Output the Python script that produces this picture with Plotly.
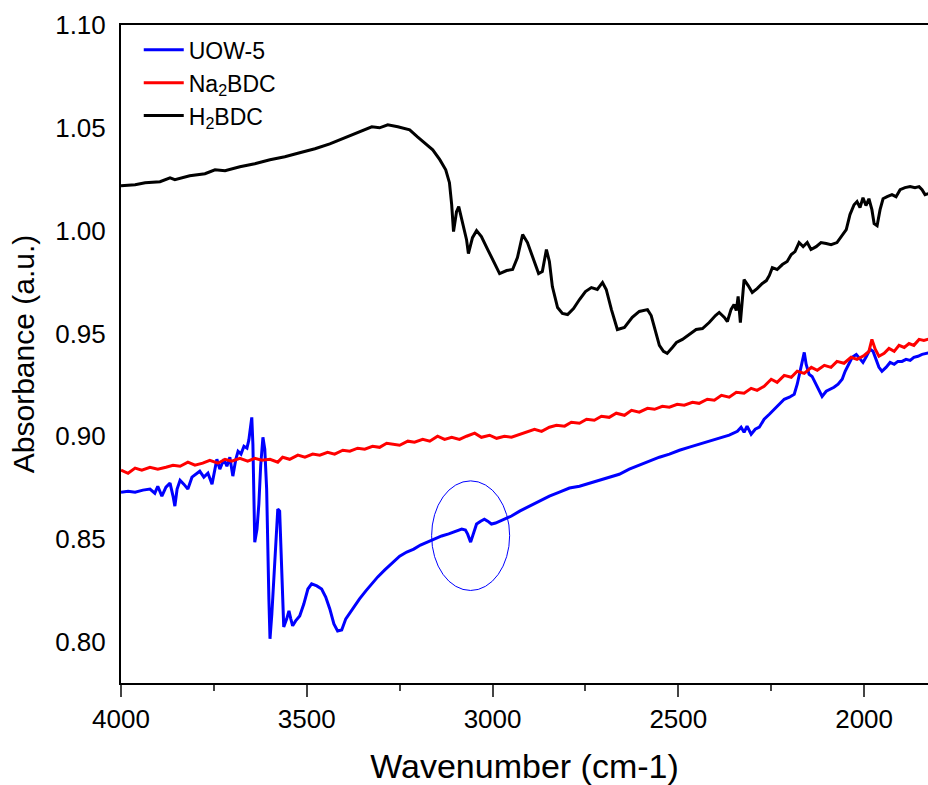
import plotly.graph_objects as go

# ---- data ----
h2bdc_wn = [4000, 3962, 3935, 3895, 3868, 3855, 3815, 3774, 3747, 3720, 3680, 3640, 3599, 3559, 3519, 3478, 3438, 3398, 3358, 3325, 3304, 3282, 3255, 3223, 3202, 3183, 3161, 3142, 3126, 3116, 3110, 3105, 3097, 3091, 3083, 3070, 3065, 3054, 3043, 3030, 3013, 2997, 2981, 2962, 2946, 2933, 2919, 2906, 2892, 2876, 2866, 2855, 2847, 2839, 2825, 2812, 2798, 2782, 2766, 2750, 2734, 2718, 2704, 2694, 2680, 2664, 2645, 2624, 2605, 2583, 2573, 2562, 2551, 2540, 2530, 2516, 2505, 2489, 2470, 2452, 2435, 2417, 2400, 2390, 2376, 2368, 2358, 2350, 2344, 2339, 2333, 2328, 2323, 2312, 2301, 2288, 2274, 2263, 2255, 2247, 2234, 2220, 2207, 2196, 2186, 2175, 2164, 2153, 2143, 2129, 2116, 2102, 2089, 2073, 2059, 2048, 2038, 2027, 2019, 2011, 2003, 1995, 1987, 1979, 1973, 1965, 1957, 1949, 1938, 1925, 1914, 1903, 1890, 1876, 1863, 1852, 1844, 1836, 1820]
h2bdc_ab = [1.0218, 1.0223, 1.0233, 1.0238, 1.0257, 1.0248, 1.0267, 1.0277, 1.0296, 1.0291, 1.0311, 1.0325, 1.0345, 1.0359, 1.0379, 1.0398, 1.0422, 1.0451, 1.0481, 1.0505, 1.0500, 1.0515, 1.0505, 1.0490, 1.0456, 1.0427, 1.0393, 1.0345, 1.0296, 1.0233, 1.0126, 0.9995, 1.0092, 1.0117, 1.0053, 0.9956, 0.9888, 0.9966, 1.0000, 0.9971, 0.9908, 0.9850, 0.9791, 0.9806, 0.9811, 0.9869, 0.9981, 0.9942, 0.9869, 0.9791, 0.9801, 0.9908, 0.9850, 0.9728, 0.9626, 0.9597, 0.9592, 0.9621, 0.9665, 0.9704, 0.9723, 0.9714, 0.9748, 0.9714, 0.9616, 0.9519, 0.9529, 0.9578, 0.9607, 0.9616, 0.9587, 0.9519, 0.9442, 0.9413, 0.9403, 0.9432, 0.9456, 0.9471, 0.9495, 0.9519, 0.9524, 0.9553, 0.9587, 0.9602, 0.9578, 0.9558, 0.9617, 0.9641, 0.9611, 0.9680, 0.9553, 0.9665, 0.9762, 0.9733, 0.9699, 0.9718, 0.9743, 0.9757, 0.9782, 0.9820, 0.9811, 0.9835, 0.9850, 0.9884, 0.9898, 0.9942, 0.9922, 0.9942, 0.9908, 0.9922, 0.9942, 0.9937, 0.9932, 0.9942, 0.9976, 1.0005, 1.0078, 1.0126, 1.0141, 1.0112, 1.0160, 1.0122, 1.0155, 1.0102, 1.0034, 1.0024, 1.0102, 1.0155, 1.0165, 1.0175, 1.0165, 1.0199, 1.0209, 1.0214, 1.0209, 1.0214, 1.0199, 1.0175, 1.0184]

na2bdc_wn = [4000, 3981, 3962, 3944, 3922, 3901, 3879, 3860, 3841, 3820, 3801, 3780, 3761, 3739, 3720, 3702, 3680, 3659, 3640, 3621, 3599, 3578, 3565, 3546, 3524, 3505, 3484, 3465, 3444, 3425, 3403, 3384, 3363, 3344, 3323, 3304, 3285, 3269, 3250, 3228, 3210, 3188, 3169, 3148, 3129, 3110, 3089, 3070, 3048, 3030, 3008, 2989, 2968, 2949, 2927, 2909, 2887, 2868, 2847, 2828, 2806, 2788, 2766, 2747, 2726, 2707, 2686, 2667, 2645, 2626, 2605, 2583, 2564, 2543, 2524, 2503, 2484, 2462, 2444, 2422, 2403, 2384, 2363, 2344, 2323, 2304, 2288, 2269, 2250, 2234, 2215, 2196, 2180, 2161, 2142, 2126, 2107, 2089, 2073, 2054, 2035, 2019, 2000, 1987, 1979, 1970, 1960, 1946, 1933, 1919, 1906, 1892, 1879, 1866, 1852, 1839, 1820]
na2bdc_ab = [0.8835, 0.8820, 0.8845, 0.8835, 0.8849, 0.8840, 0.8849, 0.8859, 0.8854, 0.8874, 0.8859, 0.8869, 0.8883, 0.8869, 0.8888, 0.8879, 0.8893, 0.8879, 0.8893, 0.8883, 0.8888, 0.8874, 0.8898, 0.8888, 0.8908, 0.8898, 0.8913, 0.8908, 0.8922, 0.8913, 0.8932, 0.8927, 0.8942, 0.8937, 0.8951, 0.8946, 0.8966, 0.8961, 0.8956, 0.8976, 0.8971, 0.8985, 0.8976, 0.9000, 0.8985, 0.8995, 0.8985, 0.9000, 0.9015, 0.8995, 0.9005, 0.8990, 0.9000, 0.8995, 0.9010, 0.9019, 0.9034, 0.9024, 0.9044, 0.9053, 0.9049, 0.9068, 0.9063, 0.9083, 0.9078, 0.9097, 0.9092, 0.9112, 0.9102, 0.9126, 0.9117, 0.9136, 0.9131, 0.9146, 0.9141, 0.9155, 0.9151, 0.9165, 0.9160, 0.9180, 0.9175, 0.9199, 0.9190, 0.9214, 0.9209, 0.9233, 0.9223, 0.9243, 0.9277, 0.9262, 0.9296, 0.9287, 0.9316, 0.9306, 0.9335, 0.9321, 0.9345, 0.9335, 0.9364, 0.9355, 0.9384, 0.9374, 0.9393, 0.9413, 0.9471, 0.9423, 0.9389, 0.9403, 0.9427, 0.9413, 0.9442, 0.9432, 0.9451, 0.9442, 0.9471, 0.9466, 0.9476]

uow5_wn = [4000, 3981, 3962, 3941, 3922, 3909, 3901, 3890, 3879, 3868, 3860, 3855, 3849, 3841, 3831, 3820, 3809, 3798, 3788, 3777, 3766, 3755, 3747, 3742, 3734, 3723, 3715, 3707, 3699, 3691, 3685, 3677, 3669, 3661, 3656, 3651, 3648, 3645, 3640, 3634, 3629, 3624, 3618, 3613, 3608, 3602, 3599, 3594, 3589, 3583, 3578, 3573, 3567, 3562, 3554, 3548, 3543, 3538, 3530, 3519, 3508, 3497, 3487, 3473, 3460, 3449, 3438, 3427, 3417, 3406, 3395, 3384, 3371, 3358, 3341, 3325, 3309, 3290, 3272, 3250, 3231, 3212, 3194, 3175, 3156, 3137, 3118, 3100, 3083, 3073, 3067, 3059, 3051, 3043, 3032, 3022, 3013, 3003, 2992, 2981, 2968, 2949, 2927, 2901, 2874, 2847, 2820, 2793, 2766, 2739, 2712, 2686, 2659, 2632, 2605, 2578, 2551, 2524, 2497, 2470, 2444, 2417, 2390, 2363, 2341, 2331, 2323, 2315, 2304, 2293, 2282, 2269, 2255, 2242, 2228, 2215, 2201, 2188, 2180, 2172, 2166, 2161, 2156, 2148, 2140, 2129, 2121, 2113, 2102, 2091, 2081, 2070, 2059, 2051, 2040, 2032, 2021, 2011, 2003, 1995, 1984, 1976, 1968, 1960, 1952, 1941, 1930, 1919, 1909, 1898, 1887, 1876, 1866, 1855, 1844, 1820]
uow5_ab = [0.8728, 0.8733, 0.8728, 0.8738, 0.8743, 0.8723, 0.8757, 0.8709, 0.8752, 0.8772, 0.8709, 0.8660, 0.8743, 0.8786, 0.8767, 0.8743, 0.8801, 0.8815, 0.8830, 0.8801, 0.8820, 0.8767, 0.8840, 0.8888, 0.8840, 0.8888, 0.8854, 0.8898, 0.8806, 0.8888, 0.8927, 0.8913, 0.8951, 0.8942, 0.8981, 0.9058, 0.9092, 0.8961, 0.8485, 0.8549, 0.8670, 0.8859, 0.8995, 0.8937, 0.8743, 0.8209, 0.8015, 0.8136, 0.8282, 0.8500, 0.8646, 0.8636, 0.8306, 0.8073, 0.8112, 0.8151, 0.8112, 0.8078, 0.8102, 0.8126, 0.8184, 0.8257, 0.8282, 0.8272, 0.8257, 0.8218, 0.8160, 0.8087, 0.8053, 0.8058, 0.8112, 0.8141, 0.8175, 0.8209, 0.8248, 0.8282, 0.8316, 0.8350, 0.8379, 0.8417, 0.8437, 0.8451, 0.8471, 0.8486, 0.8500, 0.8515, 0.8525, 0.8539, 0.8549, 0.8544, 0.8524, 0.8485, 0.8524, 0.8573, 0.8587, 0.8597, 0.8587, 0.8573, 0.8578, 0.8587, 0.8597, 0.8612, 0.8636, 0.8660, 0.8684, 0.8709, 0.8728, 0.8748, 0.8757, 0.8772, 0.8786, 0.8801, 0.8815, 0.8840, 0.8859, 0.8879, 0.8898, 0.8913, 0.8932, 0.8947, 0.8961, 0.8976, 0.8990, 0.9005, 0.9024, 0.9044, 0.9019, 0.9049, 0.9010, 0.9034, 0.9044, 0.9083, 0.9107, 0.9131, 0.9155, 0.9180, 0.9190, 0.9204, 0.9253, 0.9316, 0.9374, 0.9408, 0.9350, 0.9301, 0.9291, 0.9253, 0.9219, 0.9194, 0.9219, 0.9228, 0.9238, 0.9253, 0.9277, 0.9316, 0.9359, 0.9384, 0.9398, 0.9374, 0.9359, 0.9384, 0.9423, 0.9413, 0.9374, 0.9335, 0.9316, 0.9335, 0.9359, 0.9350, 0.9364, 0.9364, 0.9374, 0.9369, 0.9384, 0.9389, 0.9398, 0.9408]

x_tick_vals = [4000, 3500, 3000, 2500, 2000]
y_tick_vals = [0.80, 0.85, 0.90, 0.95, 1.00, 1.05, 1.10]
y_tick_text = ["0.80", "0.85", "0.90", "0.95", "1.00", "1.05", "1.10"]

# highlighted region (ellipse)
ellipse_wn = [3164, 2954]
ellipse_ab = [0.825, 0.8783]

FONT = "Arial, 'Liberation Sans', sans-serif"

fig = go.Figure()
fig.add_trace(go.Scatter(x=uow5_wn, y=uow5_ab, mode="lines", name="UOW-5",
                         line=dict(color="#0000FF", width=3)))
fig.add_trace(go.Scatter(x=na2bdc_wn, y=na2bdc_ab, mode="lines", name="Na<sub>2</sub>BDC",
                         line=dict(color="#FF0000", width=3)))
fig.add_trace(go.Scatter(x=h2bdc_wn, y=h2bdc_ab, mode="lines", name="H<sub>2</sub>BDC",
                         line=dict(color="#000000", width=3)))

fig.add_shape(type="circle", xref="x", yref="y",
              x0=ellipse_wn[0], x1=ellipse_wn[1], y0=ellipse_ab[0], y1=ellipse_ab[1],
              line=dict(color="#0000FF", width=1))

fig.update_layout(
    width=928, height=785,
    margin=dict(l=121, r=0, t=25, b=102),
    paper_bgcolor="white", plot_bgcolor="white",
    font=dict(family=FONT, color="black"),
    legend=dict(x=0.022, y=0.995, xanchor="left", yanchor="top",
                font=dict(size=23, family=FONT), bgcolor="rgba(0,0,0,0)",
                tracegroupgap=0, itemwidth=40),
    showlegend=True,
)
fig.update_xaxes(
    range=[4000, 1828], autorange=False,
    tickvals=x_tick_vals, ticks="outside", ticklen=12, tickwidth=2,
    minor=dict(ticks="outside", ticklen=6, tickwidth=2, dtick=250, tick0=0),
    showline=True, linecolor="black", linewidth=2, mirror=True,
    showgrid=False, zeroline=False,
    tickfont=dict(size=26, family=FONT),
    title=dict(text="Wavenumber (cm-1)", font=dict(size=34, family=FONT), standoff=22),
)
fig.update_yaxes(
    range=[0.78, 1.10], autorange=False,
    tickvals=y_tick_vals, ticktext=y_tick_text, ticks="",
    showline=True, linecolor="black", linewidth=2, mirror=False,
    showgrid=False, zeroline=False,
    tickfont=dict(size=26, family=FONT), ticklabelstandoff=8,
    title=dict(text="Absorbance (a.u.)", font=dict(size=30, family=FONT), standoff=12),
)

fig.write_html(
    "out.html",
    config={"displayModeBar": False},
    post_script="document.body.style.margin='0';document.body.style.overflow='hidden';",
)
